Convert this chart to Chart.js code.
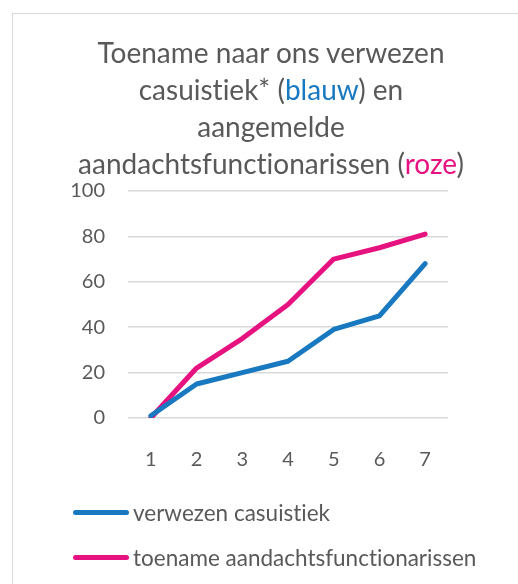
<!DOCTYPE html>
<html>
<head>
<meta charset="utf-8">
<script src="https://cdn.jsdelivr.net/npm/chart.js@4/dist/chart.umd.min.js"></script>
<style>
  html, body { margin: 0; padding: 0; background: #fff; }
  body { width: 518px; height: 584px; position: relative; overflow: hidden; font-family: Lato, sans-serif; color: #595959;
         font-variant-ligatures: none; font-feature-settings: "liga" 0, "clig" 0, "dlig" 0; }
  #frame { position: absolute; left: 12px; top: 13px; width: 540px; height: 600px; border-left: 1px solid #d9d9d9; border-top: 1px solid #d9d9d9; }
  #title { position: absolute; left: 12px; width: 518px; top: 34px; text-align: center; font-size: 28px; line-height: 37px; }
  .blue { color: #1878c0; }
  .pink { color: #e6127f; }
  #chart-wrap { position: absolute; left: 0; top: 0; width: 518px; height: 584px; }
  #legend { position: absolute; left: 73px; top: 497px; font-size: 22.5px; }
  .leg-item { display: flex; align-items: center; height: 30px; margin-bottom: 15px; }
  .leg-line { width: 56px; height: 5px; border-radius: 3px; margin-right: 4px; }
</style>
</head>
<body>
<div id="frame"></div>
<div id="chart-wrap"><canvas id="chart"></canvas></div>
<div id="title">Toename naar ons verwezen<br>casuistiek* (<span class="blue">blauw</span>) en<br>aangemelde<br>aandachtsfunctionarissen (<span class="pink">roze</span>)</div>
<div id="legend"></div>
<script>
// Chart values
const categories = ['1', '2', '3', '4', '5', '6', '7'];
const casuistiek = [1, 15, 20, 25, 39, 45, 68];
const functionarissen = [0, 22, 35, 50, 70, 75, 81];
const seriesNames = ['verwezen casuistiek', 'toename aandachtsfunctionarissen'];
const seriesColors = ['#1878c0', '#e6127f'];

const textColor = '#595959';
const tickFont = { family: 'Lato, sans-serif', size: 20 };

const lineSet = (label, data, color) => ({
    label: label,
    data: data,
    borderColor: color,
    backgroundColor: color,
    borderWidth: 5,
    borderCapStyle: 'round',
    borderJoinStyle: 'round',
    tension: 0,
    pointRadius: 0
});

const chart = new Chart(document.getElementById('chart').getContext('2d'), {
    type: 'line',
    data: {
        labels: categories,
        datasets: [
            lineSet(seriesNames[0], casuistiek, seriesColors[0]),
            lineSet(seriesNames[1], functionarissen, seriesColors[1])
        ]
    },
    options: {
        responsive: true,
        maintainAspectRatio: false,
        animation: false,
        layout: { padding: { top: 191, right: 70, bottom: 106, left: 0 } },
        plugins: { legend: { display: false }, tooltip: { enabled: false } },
        scales: {
            x: {
                offset: true,
                grid: { display: false },
                border: { display: false },
                ticks: { color: textColor, font: tickFont, padding: 22 },
                afterFit: (axis) => { axis.height = 60; }
            },
            y: {
                min: 0,
                max: 100,
                ticks: { stepSize: 20, color: textColor, font: tickFont, padding: 23 },
                grid: { color: '#d9d9d9', lineWidth: 1.5, drawTicks: false },
                border: { display: false },
                afterFit: (axis) => { axis.width = 128; }
            }
        }
    }
});

// Legend stacked below the plot, built from the chart's datasets
const legendEl = document.getElementById('legend');
chart.data.datasets.forEach((ds) => {
    const item = document.createElement('div');
    item.className = 'leg-item';
    const line = document.createElement('span');
    line.className = 'leg-line';
    line.style.background = ds.borderColor;
    const text = document.createElement('span');
    text.innerText = ds.label;
    item.appendChild(line);
    item.appendChild(text);
    legendEl.appendChild(item);
});
</script>
</body>
</html>
